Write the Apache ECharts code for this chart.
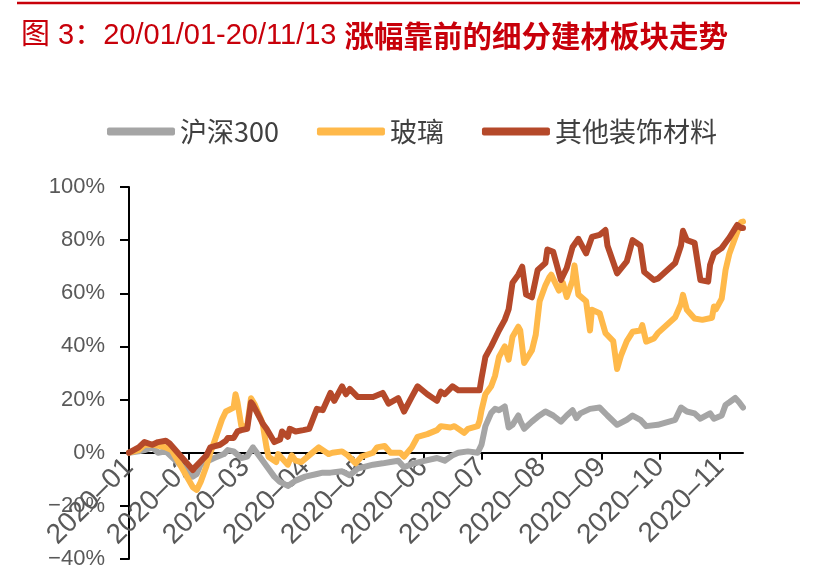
<!DOCTYPE html>
<html>
<head>
<meta charset="UTF-8">
<title>涨幅靠前的细分建材板块走势</title>
<script src="https://cdn.jsdelivr.net/npm/echarts@6.0.0/dist/echarts.min.js"></script>
<style>
  html, body { margin: 0; padding: 0; background: #fff; }
  #main { width: 815px; height: 580px; }
</style>
</head>
<body>
<div id="main"></div>
<script>
// 图例 / 系列名称
var seriesNames = ['沪深300', '玻璃', '其他装饰材料'];
var seriesColors = ['#A5A5A5', '#FFB94A', '#B5492A'];

// 横轴月份刻度
var monthTicks = ['2020-01-01', '2020-02-01', '2020-03-01', '2020-04-01', '2020-05-01', '2020-06-01',
                  '2020-07-01', '2020-08-01', '2020-09-01', '2020-10-01', '2020-11-01'];
var xStart = '2020-01-01', xEnd = '2020-11-13';
var yMin = -40, yMax = 100, yStep = 20;

// 沪深300 累计涨幅(%)
var hs300Dates = ['2020-01-01','2020-01-06','2020-01-09','2020-01-13','2020-01-16','2020-01-20','2020-01-23',
  '2020-02-03','2020-02-05','2020-02-07','2020-02-11','2020-02-14','2020-02-19','2020-02-21','2020-02-24','2020-02-28',
  '2020-03-02','2020-03-05','2020-03-09','2020-03-12','2020-03-16','2020-03-19','2020-03-23','2020-03-27',
  '2020-04-01','2020-04-07','2020-04-10','2020-04-14','2020-04-20','2020-04-24','2020-04-28',
  '2020-05-06','2020-05-11','2020-05-15','2020-05-19','2020-05-22','2020-05-27',
  '2020-06-02','2020-06-08','2020-06-12','2020-06-16','2020-06-19','2020-06-24','2020-06-29','2020-06-30',
  '2020-07-01','2020-07-03','2020-07-06','2020-07-08','2020-07-10','2020-07-13','2020-07-15','2020-07-17','2020-07-20','2020-07-21','2020-07-23','2020-07-27','2020-07-30',
  '2020-08-03','2020-08-07','2020-08-11','2020-08-14','2020-08-17','2020-08-19','2020-08-21','2020-08-26','2020-08-31',
  '2020-09-04','2020-09-09','2020-09-14','2020-09-17','2020-09-21','2020-09-24','2020-09-30',
  '2020-10-09','2020-10-12','2020-10-15','2020-10-19','2020-10-22','2020-10-27','2020-10-29',
  '2020-11-02','2020-11-04','2020-11-06','2020-11-09','2020-11-11','2020-11-13'];
var hs300Values = [0, 0.5, 1, 2, 0, 0.5, -1.5,
  -9, -8, -4.5, -3, -2, -0.5, 1, 0.5, -2,
  -1.5, 2, -2, -5, -9, -11, -12.5, -10.5,
  -9, -8, -7.5, -7.5, -7, -8.5, -6,
  -4.5, -4, -3.5, -3, -5.5, -4,
  -3, -2, -3, -1, 0, 0.5, 0, 0.5,
  3, 10, 15, 16.5, 16, 17.4, 9.5, 10.5, 14, 12, 9, 11.7, 13.5,
  15.5, 14, 11.7, 14, 16, 13, 14.8, 16.5, 17,
  14, 10.5, 12.4, 14, 12.4, 10, 10.5,
  12.4, 17, 15.5, 14.8, 12.8, 14.8, 12.8,
  14, 18, 19, 20.6, 19, 17];

// 玻璃 累计涨幅(%)
var glassDates = ['2020-01-01','2020-01-06','2020-01-09','2020-01-14','2020-01-20','2020-01-23',
  '2020-02-03','2020-02-05','2020-02-07','2020-02-10','2020-02-12','2020-02-14','2020-02-18','2020-02-20','2020-02-24','2020-02-25','2020-02-26','2020-02-28',
  '2020-03-02','2020-03-04','2020-03-06','2020-03-10','2020-03-12','2020-03-13','2020-03-17','2020-03-18','2020-03-23','2020-03-25','2020-03-27','2020-03-30',
  '2020-04-03','2020-04-08','2020-04-13','2020-04-15','2020-04-20','2020-04-23','2020-04-27','2020-04-30',
  '2020-05-06','2020-05-08','2020-05-12','2020-05-15','2020-05-20','2020-05-22','2020-05-26','2020-05-29',
  '2020-06-03','2020-06-08','2020-06-10','2020-06-15','2020-06-17','2020-06-22','2020-06-24','2020-06-29','2020-06-30',
  '2020-07-01','2020-07-02','2020-07-03','2020-07-06','2020-07-08','2020-07-10','2020-07-13','2020-07-15','2020-07-17','2020-07-20','2020-07-21','2020-07-23','2020-07-27','2020-07-29','2020-07-31',
  '2020-08-03','2020-08-05','2020-08-06','2020-08-10','2020-08-12','2020-08-14','2020-08-17','2020-08-18','2020-08-20','2020-08-24','2020-08-26','2020-08-27','2020-08-31',
  '2020-09-03','2020-09-07','2020-09-09','2020-09-11','2020-09-14','2020-09-17','2020-09-21','2020-09-22','2020-09-24','2020-09-28','2020-09-30',
  '2020-10-09','2020-10-12','2020-10-13','2020-10-15','2020-10-19','2020-10-23','2020-10-28','2020-10-29','2020-10-30',
  '2020-11-02','2020-11-04','2020-11-06','2020-11-10','2020-11-12','2020-11-13'];
var glassValues = [0, 1, 3, 3, 2, 1,
  -13, -14, -11, -5, 0, 4, 12.5, 15.5, 17, 22, 19, 10,
  10, 20.5, 18, 11, 2, -1.5, -3.5, -0.5, -4.5, -1, -3, -3.5,
  -1, 2, -0.5, 0, 0.5, -1, -4, -1.5,
  0, 2, 2.5, 0, 0, -1.5, 2, 6,
  7, 8.5, 10, 9.5, 10, 7.5, 9, 10, 12,
  16, 19, 22, 25, 29, 36, 40, 35, 43.6, 47.4, 46, 33.8, 38.5, 44.4, 57,
  63, 66, 67, 61, 64, 58.6, 64.8, 70.5, 59.5, 57, 46, 53.8, 52.5,
  45, 42, 31.5, 36.5, 42, 45.5, 46, 48, 41.8, 43, 45,
  51, 56, 59.4, 53.8, 50.5, 50, 50.8, 55, 54,
  58, 68.8, 75, 83, 86.8, 87];

// 其他装饰材料 累计涨幅(%)
var decoDates = ['2020-01-01','2020-01-06','2020-01-09','2020-01-13','2020-01-16','2020-01-20','2020-01-22','2020-01-23',
  '2020-02-03','2020-02-04','2020-02-06','2020-02-10','2020-02-12','2020-02-17','2020-02-20','2020-02-21','2020-02-24','2020-02-26','2020-02-28',
  '2020-03-02','2020-03-04','2020-03-05','2020-03-09','2020-03-10','2020-03-12','2020-03-16','2020-03-19','2020-03-20','2020-03-23','2020-03-24','2020-03-27','2020-03-31',
  '2020-04-03','2020-04-07','2020-04-10','2020-04-14','2020-04-16','2020-04-20','2020-04-22','2020-04-24','2020-04-28',
  '2020-05-06','2020-05-11','2020-05-14','2020-05-19','2020-05-22','2020-05-26','2020-05-29',
  '2020-06-03','2020-06-08','2020-06-10','2020-06-12','2020-06-16','2020-06-19','2020-06-24','2020-06-30',
  '2020-07-01','2020-07-02','2020-07-03','2020-07-06','2020-07-08','2020-07-10','2020-07-13','2020-07-15','2020-07-17','2020-07-20','2020-07-22','2020-07-24','2020-07-27','2020-07-30',
  '2020-08-03','2020-08-04','2020-08-07','2020-08-11','2020-08-14','2020-08-17','2020-08-20','2020-08-21','2020-08-24','2020-08-27','2020-08-31',
  '2020-09-03','2020-09-04','2020-09-09','2020-09-10','2020-09-14','2020-09-15','2020-09-17','2020-09-21','2020-09-23','2020-09-28','2020-09-30',
  '2020-10-09','2020-10-12','2020-10-13','2020-10-15','2020-10-19','2020-10-22','2020-10-26','2020-10-27','2020-10-29','2020-10-30',
  '2020-11-02','2020-11-04','2020-11-06','2020-11-09','2020-11-10','2020-11-12','2020-11-13'];
var decoValues = [0, 2, 4, 3, 4, 4.5, 3.5, 3,
  -6.5, -5.5, -4, -1, 2, 3, 4.5, 5.5, 5.5, 8, 8.5,
  9, 19, 18, 12.5, 11, 9, 4, 5, 8, 6, 9, 8, 8.5,
  9, 16.5, 16, 22.5, 19.5, 25, 22, 24, 21,
  21, 22.5, 18.5, 20.5, 15.5, 21, 25,
  22, 19.5, 23, 22, 25, 23.5, 23.5, 23.5,
  28, 32, 36, 40, 43, 46, 50, 54, 64, 67, 70, 59.5, 58.5, 68.8,
  71.4, 76.5, 75.6, 65, 69.5, 77.4, 80.5, 81.2, 75, 81.2, 82,
  83.8, 78, 67.5, 68, 72, 72.5, 80, 78, 68, 65, 65.5,
  71.4, 78, 83.5, 80, 79, 65, 64.4, 70.7, 75, 74.4,
  77, 79, 81, 84.5, 85.7, 84.6, 84.6];

// 日期字符串 -> 本地时间戳
function stamp(s) {
    var p = s.split('-');
    return new Date(+p[0], +p[1] - 1, +p[2]).getTime();
}

function zip(dates, values) {
    return dates.map(function (d, i) { return [stamp(d), values[i]]; });
}

var tickStamps = monthTicks.map(stamp);
var seriesData = [zip(hs300Dates, hs300Values), zip(glassDates, glassValues), zip(decoDates, decoValues)];

// 绘图区
var gridTop = 187, gridBottom = 21, chartH = 580;
var plotH = chartH - gridTop - gridBottom;
// 横轴放在 0% 处（负数偏移让底部轴上移）
var zeroOffset = -plotH * (0 - yMin) / (yMax - yMin);

var myChart = echarts.init(document.getElementById('main'));

var option = {
    animation: false,
    backgroundColor: '#ffffff',
    title: {
        left: 16,
        top: 16,
        text: '{a|图 3：20/01/01-20/11/13 }{b|涨幅靠前的细分建材板块走势}',
        textStyle: {
            rich: {
                a: { color: '#C8000A', fontSize: 29, fontWeight: 'normal', fontFamily: 'Liberation Sans, Noto Sans CJK SC' },
                b: { color: '#C8000A', fontSize: 29.5, fontWeight: 'bold', fontFamily: 'Noto Sans CJK SC' }
            }
        }
    },
    graphic: [{
        type: 'line',
        shape: { x1: 17, y1: 3, x2: 800, y2: 3 },
        style: { stroke: '#C8000A', lineWidth: 2.5 }
    }],
    legend: {
        left: 102,
        top: 113,
        icon: 'roundRect',
        itemWidth: 68,
        itemHeight: 8,
        itemGap: 38,
        textStyle: { fontSize: 27, color: '#404040', fontFamily: 'Noto Sans CJK SC' },
        data: seriesNames
    },
    grid: {
        left: 129,
        right: 72,
        top: gridTop,
        bottom: gridBottom,
        outerBoundsMode: 'none'
    },
    xAxis: {
        type: 'value',
        min: stamp(xStart),
        max: stamp(xEnd),
        offset: zeroOffset,
        axisLine: { onZero: false, lineStyle: { color: '#000', width: 2 } },
        axisTick: { show: true, length: 7, lineStyle: { color: '#000', width: 2 }, customValues: tickStamps },
        axisLabel: {
            rotate: 45,
            margin: 10,
            fontSize: 28,
            color: '#595959',
            fontFamily: 'Liberation Sans',
            customValues: tickStamps,
            formatter: function (val) {
                var d = new Date(val);
                var mm = d.getMonth() + 1;
                return d.getFullYear() + '–' + (mm < 10 ? '0' + mm : mm);
            }
        },
        splitLine: { show: false }
    },
    yAxis: {
        type: 'value',
        min: yMin,
        max: yMax,
        interval: yStep,
        axisLine: { show: true, onZero: false, lineStyle: { color: '#000', width: 2 } },
        axisTick: { show: true, length: 9, lineStyle: { color: '#000', width: 2 } },
        axisLabel: {
            margin: 24,
            fontSize: 22,
            color: '#595959',
            fontFamily: 'Liberation Sans',
            formatter: function (v) {
                return (v < 0 ? '−' + Math.abs(v) : v) + '%';
            }
        },
        splitLine: { show: false }
    },
    series: seriesNames.map(function (name, i) {
        return {
            name: name,
            type: 'line',
            data: seriesData[i],
            showSymbol: false,
            symbol: 'none',
            color: seriesColors[i],
            lineStyle: { width: 6, color: seriesColors[i], join: 'round', cap: 'round' }
        };
    })
};

myChart.setOption(option);
</script>
</body>
</html>
